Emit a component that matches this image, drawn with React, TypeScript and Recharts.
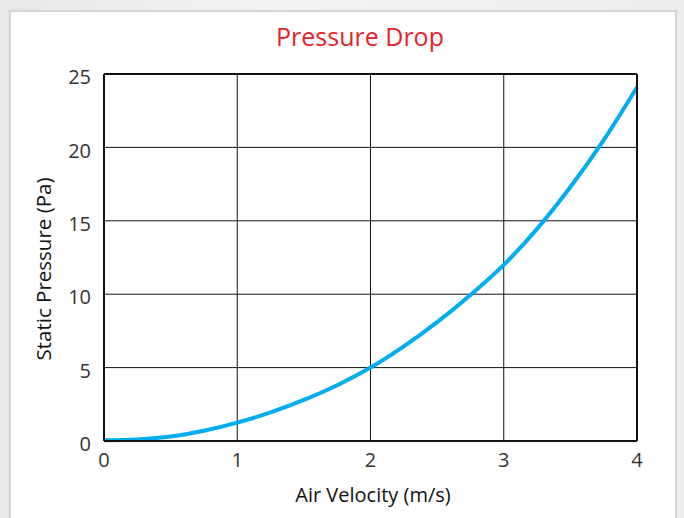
import { LineChart, Line, XAxis, YAxis, CartesianGrid } from "recharts"

// air velocity (m/s) and static pressure (Pa)
const velocity = [0, 0.25, 0.5, 0.75, 1, 1.25, 1.5, 1.75, 2, 2.25, 2.5, 2.75, 3, 3.25, 3.5, 3.75, 4]
const pressure = [0.05, 0.1, 0.3, 0.7, 1.25, 1.95, 2.8, 3.8, 5, 6.45, 8.1, 9.95, 12, 14.45, 17.3, 20.5, 24.1]

const xTicks = [0, 1, 2, 3, 4]
const yTicks = [0, 5, 10, 15, 20, 25]

const data = velocity.map((v, i) => ({ v, p: pressure[i] }))

const font = "'Open Sans', 'Noto Sans', sans-serif"

export default function App() {
  return (
    <div
      style={{
        position: "fixed",
        left: 0,
        top: 0,
        width: 684,
        height: 518,
        overflow: "hidden",
        background: "linear-gradient(90deg, #e6e6e6, #f3f3f3 40%, #ececec)",
        fontFamily: font,
      }}
    >
      <div
        style={{
          position: "absolute",
          left: 9,
          top: 10,
          width: 664,
          height: 520,
          background: "#fff",
          border: "2px solid #d4d4d4",
        }}
      />
      <div
        style={{
          position: "absolute",
          left: 0,
          width: 720,
          top: 19,
          textAlign: "center",
          color: "#e5232b",
          fontSize: 25,
        }}
      >
        Pressure Drop
      </div>
      <div
        style={{
          position: "absolute",
          left: 0,
          width: 746,
          top: 481,
          textAlign: "center",
          color: "#111",
          fontSize: 20,
        }}
      >
        Air Velocity (m/s)
      </div>
      <div
        style={{
          position: "absolute",
          left: 43,
          top: 269,
          transform: "translate(-50%, -50%) rotate(-90deg)",
          whiteSpace: "nowrap",
          color: "#111",
          fontSize: 20.5,
        }}
      >
        Static Pressure (Pa)
      </div>
      <div style={{ position: "absolute", left: 0, top: 0 }}>
        <LineChart
          width={684}
          height={518}
          data={data}
          margin={{ top: 72, left: 64, right: 45, bottom: 47 }}
        >
          <CartesianGrid stroke="#111" strokeWidth={1} />
          <XAxis
            dataKey="v"
            type="number"
            domain={[0, 4]}
            ticks={xTicks}
            height={30}
            tickLine={false}
            axisLine={{ stroke: "#111", strokeWidth: 2 }}
            tick={{ fill: "#333", fontSize: 20, fontFamily: font, dy: 4 }}
          />
          <XAxis
            xAxisId="top"
            orientation="top"
            type="number"
            domain={[0, 4]}
            height={2}
            tick={false}
            tickLine={false}
            axisLine={{ stroke: "#111", strokeWidth: 2 }}
          />
          <YAxis
            type="number"
            domain={[0, 25]}
            ticks={yTicks}
            width={40}
            tickLine={false}
            axisLine={{ stroke: "#111", strokeWidth: 2 }}
            tick={{ fill: "#333", fontSize: 20, fontFamily: font, dx: -5, dy: 3 }}
          />
          <YAxis
            yAxisId="right"
            orientation="right"
            type="number"
            domain={[0, 25]}
            width={2}
            tick={false}
            tickLine={false}
            axisLine={{ stroke: "#111", strokeWidth: 2 }}
          />
          <Line
            type="monotone"
            dataKey="p"
            stroke="#00aeef"
            strokeWidth={4}
            dot={false}
            isAnimationActive={false}
          />
        </LineChart>
      </div>
    </div>
  )
}
